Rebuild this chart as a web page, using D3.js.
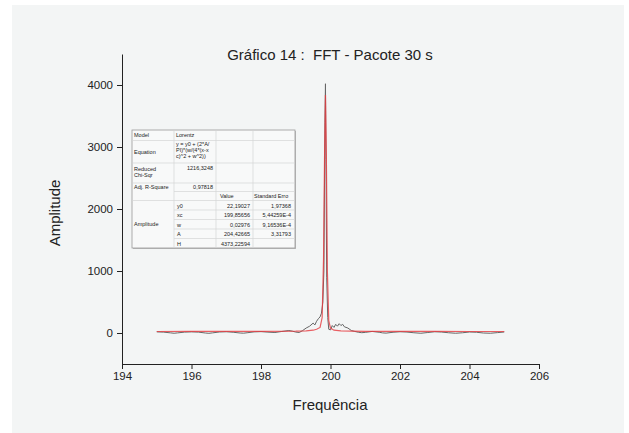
<!DOCTYPE html>
<html>
<head>
<meta charset="utf-8">
<script src="https://cdn.jsdelivr.net/npm/d3@7"></script>
<style>
  body { margin: 0; background: #fff; }
  svg text { font-family: "Liberation Sans", Arial, sans-serif; fill: #222; white-space: pre; }
</style>
</head>
<body>
<div class="chart"></div>
<script>
// measured data (Frequência, Amplitude)
const freqData = [195.0,195.2,195.4,195.5,195.6,195.8,196.0,196.2,196.4,196.5,196.6,196.8,197.0,197.2,197.4,197.5,197.6,197.8,198.0,198.2,198.4,198.6,198.8,198.9,199.0,199.1,199.2,199.3,199.4,199.5,199.55,199.6,199.65,199.7,199.74,199.78,199.81,199.84,199.855,199.87,199.89,199.92,199.95,200.0,200.05,200.1,200.15,200.2,200.25,200.3,200.35,200.4,200.5,200.6,200.7,200.8,200.9,201.0,201.2,201.4,201.5,201.6,201.8,202.0,202.2,202.4,202.6,202.8,203.0,203.2,203.4,203.6,203.8,204.0,204.2,204.4,204.6,204.8,205.0];
const ampData = [18,14,2,-4,2,14,18,14,0,-5,2,16,20,12,0,-3,4,18,22,14,8,25,40,30,15,8,40,80,110,160,130,190,230,260,320,500,1000,3400,4020,2800,900,250,60,50,120,90,140,110,150,120,140,100,80,40,25,12,5,10,25,12,2,-2,12,20,15,4,-4,8,20,15,4,-4,4,16,12,0,-4,6,16];

// Lorentz fit curve
const fitFreq = [195.0,196.0,197.0,198.0,199.0,199.3,199.5,199.6,199.7,199.76,199.8,199.83,199.855,199.88,199.91,199.95,200.0,200.1,200.3,200.6,201.0,202.0,203.0,204.0,205.0];
const fitAmp = [24,25,26,27,30,35,45,60,90,250,1200,2900,3840,2900,1000,200,80,45,35,30,27,25,25,24,24];

const xTicks = [194,196,198,200,202,204,206];
const xMinor = [195,197,199,201,203,205];
const yTicks = [0,1000,2000,3000,4000];
const yMinor = [-500,500,1500,2500,3500,4500];

// fit results table
const tableLabels = ['Model','Equation','Reduced Chi-Sqr','Adj. R-Square'];
const tableHead = ['Value','Standard Erro'];
const paramNames = ['y0','xc','w','A','H'];
const paramValues = ['22,19027','199,85656','0,02976','204,42665','4373,22594'];
const paramErrors = ['1,97368','5,44259E-4','9,16536E-4','3,31793',''];

const W = 629, H = 433;
const svg = d3.select('.chart').append('svg').attr('width', W).attr('height', H);

svg.append('rect').attr('x', 12).attr('y', 5).attr('width', 612).attr('height', 428).attr('fill', '#f3f5f5');

const xScale = d3.scaleLinear().domain([194, 206]).range([122, 539]);
const yScale = d3.scaleLinear().domain([-500, 4500]).range([364, 54]);

// title
svg.append('text').attr('x', 330).attr('y', 60).attr('text-anchor', 'middle')
   .style('font-size', '15px').text('Gráfico 14 :  FFT - Pacote 30 s');

// axes
const xMinorAxis = d3.axisBottom(xScale).tickValues(xMinor).tickSize(3).tickFormat('').tickSizeOuter(0);
const xAxis = d3.axisBottom(xScale).tickValues(xTicks).tickSize(5).tickPadding(3).tickSizeOuter(0).tickFormat(d3.format('d'));
const yMinorAxis = d3.axisLeft(yScale).tickValues(yMinor).tickSize(3).tickFormat('').tickSizeOuter(0);
const yAxis = d3.axisLeft(yScale).tickValues(yTicks).tickSize(5).tickPadding(4).tickSizeOuter(0).tickFormat(d3.format('d'));

const gx = svg.append('g').attr('transform', `translate(0,${yScale(-500)})`);
gx.call(xMinorAxis);
gx.call(xAxis);
const gy = svg.append('g').attr('transform', `translate(${xScale(194)},0)`);
gy.call(yMinorAxis);
gy.call(yAxis);
svg.selectAll('.domain, .tick line').attr('stroke', '#222');
svg.selectAll('.tick text').style('font-size', '11.5px').attr('fill', '#222');

svg.append('text').attr('x', 330).attr('y', 410).attr('text-anchor', 'middle')
   .style('font-size', '15px').text('Frequência');
svg.append('text').attr('transform', 'translate(60,213) rotate(-90)').attr('text-anchor', 'middle')
   .style('font-size', '15px').text('Amplitude');

// data line
const rawPts = freqData.map((f, i) => [f, ampData[i]]);
const fitPts = fitFreq.map((f, i) => [f, fitAmp[i]]);
const line = d3.line().x(d => xScale(d[0])).y(d => yScale(d[1]));

svg.append('path').datum(rawPts).attr('d', line)
   .attr('fill', 'none').attr('stroke', '#666').attr('stroke-width', 1);
svg.append('path').datum(fitPts).attr('d', line)
   .attr('fill', 'none').attr('stroke', '#e63a3e').attr('stroke-width', 1.2).attr('stroke-opacity', 0.8);

// results table
const tb = svg.append('g').attr('class', 'fit-table');
tb.append('rect').attr('x', 133).attr('y', 131).attr('width', 163).attr('height', 118).attr('fill', '#bbb');
tb.append('rect').attr('x', 132).attr('y', 130).attr('width', 163).attr('height', 118)
  .attr('fill', '#f8f9f9').attr('stroke', '#999').attr('stroke-width', 0.8);

const colX = [132, 174, 216, 253, 295];
const rowY = [130, 140.5, 163, 183, 191.5, 200.5, 210, 219.5, 229, 238.5, 248];
const thin = (x1, y1, x2, y2) => tb.append('line').attr('x1', x1).attr('y1', y1).attr('x2', x2).attr('y2', y2)
  .attr('stroke', '#d4d6d6').attr('stroke-width', 0.7);
[140.5, 163, 183, 200.5].forEach(y => thin(132, y, 295, y));
[191.5, 210, 219.5, 229, 238.5].forEach(y => thin(174, y, 295, y));
colX.slice(1, 4).forEach(x => thin(x, 130, x, 248));

const small = (x, y, t, anchor) => tb.append('text').attr('x', x).attr('y', y)
  .attr('text-anchor', anchor || 'start').style('font-size', '5.5px').attr('fill', '#333').text(t);

small(134, 137, tableLabels[0]);
small(176, 137, 'Lorentz');
small(134, 154, tableLabels[1]);
small(176, 146, 'y = y0 + (2*A/');
small(176, 152, 'PI)*(w/(4*(x-x');
small(176, 158, 'c)^2 + w^2))');
small(134, 171, 'Reduced');
small(134, 177, 'Chi-Sqr');
small(213, 170, '1216,3248', 'end');
small(134, 189, tableLabels[3]);
small(213, 189, '0,97818', 'end');
small(220, 198, tableHead[0]);
small(254, 198, tableHead[1]);
small(134, 226, 'Amplitude');
paramNames.forEach((p, i) => {
  const y = rowY[5] + 7 + i * 9.5;
  small(177, y, p);
  small(250, y, paramValues[i], 'end');
  small(291, y, paramErrors[i], 'end');
});
</script>
</body>
</html>
